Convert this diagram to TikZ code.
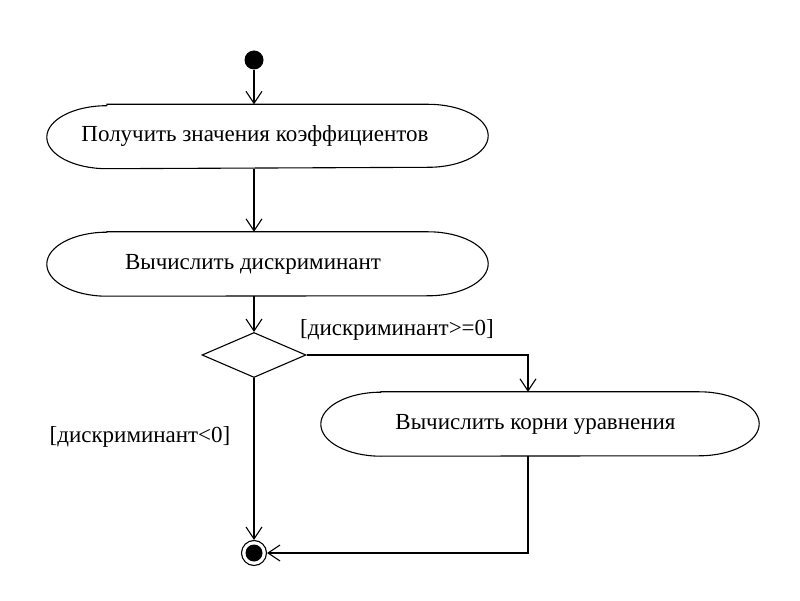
\documentclass[tikz,border=0pt]{standalone}
\usepackage{fontspec}
\setmainfont{Liberation Serif}
\usetikzlibrary{arrows.meta,shapes.geometric}
\newcommand\actoutline[3]{%
  \draw[line] ([xshift=#2]#1.north west) -- ([xshift=-#2]#1.north east)
    arc[start angle=90,end angle=-90,x radius=#2,y radius=#3]
    -- ([xshift=#2]#1.south west)
    arc[start angle=270,end angle=90,x radius=#2,y radius=#3] -- cycle;}
\begin{document}
\begin{tikzpicture}[x=1pt,y=1pt,
  line/.style={line width=1.1pt},
  flow/.style={line, -{Straight Barb[length=12pt,width=16pt,line width=1.1pt]}},
  act/.style={minimum height=64pt, inner sep=0pt, font=\fontsize{23}{26}\selectfont},
  guard/.style={font=\fontsize{23}{26}\selectfont, inner sep=0pt},
  startdot/.style={circle, fill=black, minimum size=19pt, inner sep=0pt},
  decision/.style={diamond, draw, line, minimum width=104pt, minimum height=45pt, inner sep=0pt}]
\useasboundingbox (0,0) rectangle (800,600);
\fill[white] (0,0) rectangle (800,600);

\node[startdot] (start) at (254,540) {};
\node[act, minimum width=441pt] (a1) at (267.5,463.5) {\hspace*{-25pt}\raisebox{-3pt}{Получить значения коэффициентов}};
\node[act, minimum width=441pt] (a2) at (267.5,336) {\hspace*{-29pt}\raisebox{-2pt}{Вычислить дискриминант}};
\node[decision] (d) at (254,245) {};
\node[act, minimum width=438pt] (a3) at (540,176) {\hspace*{-9pt}\raisebox{-1pt}{Вычислить корни уравнения}};
\node[circle, draw, line, minimum size=25pt, inner sep=0pt] (end) at (254,47) {};
\fill (end.center) circle[radius=8.5pt];
\coordinate (c1) at (528,245);
\coordinate (c2) at (528,47);

\actoutline{a1}{60pt}{31.5pt}
\actoutline{a2}{60pt}{32pt}
\actoutline{a3}{60pt}{32pt}

\node[guard] (g1) at (397,270) {[дискриминант>=0]};
\node[guard] (g2) at (140,163) {[дискриминант<0]};

\draw[flow] (start) -- (start |- a1.north);
\draw[flow] (start |- a1.south) -- (start |- a2.north);
\draw[flow] (start |- a2.south) -- (d.north);
\draw[flow] (d.east) -- (c1) -- (c1 |- a3.north);
\draw[flow] (d.south) -- (end.north);
\draw[flow] (c1 |- a3.south) -- (c2) -- (end.east);
\end{tikzpicture}
\end{document}
